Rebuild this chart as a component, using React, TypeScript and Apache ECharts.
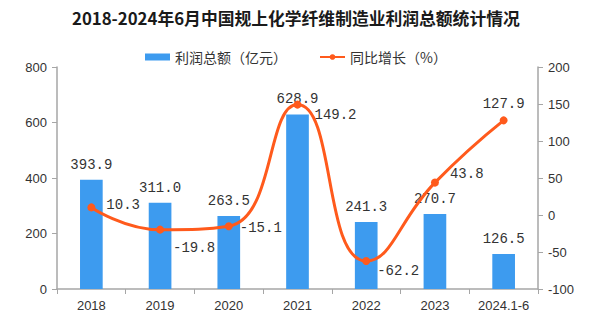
import React, { useEffect, useRef } from "react";
import * as echarts from "echarts";

const categories = ["2018", "2019", "2020", "2021", "2022", "2023", "2024.1-6"];
const profit = [393.9, 311.0, 263.5, 628.9, 241.3, 270.7, 126.5];
const growth = [10.3, -19.8, -15.1, 149.2, -62.2, 43.8, 127.9];
const leftTicks = { min: 0, max: 800, interval: 200 };
const rightTicks = { min: -100, max: 200, interval: 50 };

const labelPos: any[] = [
  { position: "right", offset: [6, -2] },
  { position: "right", offset: [4, 18] },
  { position: "right", offset: [2, 2] },
  { position: "right", offset: [8, 10] },
  { position: "right", offset: [2, 10] },
  { position: "right", offset: [6, -9] },
  { position: "top", offset: [0, 0] },
];

export default function App() {
  const ref = useRef<HTMLDivElement>(null);
  useEffect(() => {
    const chart = echarts.init(ref.current!, null, { renderer: "svg" });
    const axisLine = { show: true, lineStyle: { color: "#a6a6a6", width: 1.5 } };
    const monoLabel = {
      fontFamily: "Liberation Mono",
      fontSize: 14,
      color: "#333",
    };
    chart.setOption({
      animation: false,
      title: {
        text: "2018-2024年6月中国规上化学纤维制造业利润总额统计情况",
        left: 67,
        top: 5,
        textStyle: {
          fontFamily: "Noto Sans CJK SC",
          fontWeight: "bold",
          fontSize: 16.8,
          color: "#1a1a1a",
        },
      },
      legend: {
        top: 45,
        left: 140,
        itemGap: 32,
        textStyle: { fontFamily: "Noto Sans CJK SC", fontSize: 14, color: "#333" },
        data: [
          { name: "利润总额（亿元）", icon: "rect", itemStyle: { color: "#3d9bef" } },
          { name: "同比增长（%）" },
        ],
        itemWidth: 25,
        itemHeight: 7,
      },
      grid: { left: 57, right: 64, top: 67, bottom: 32 },
      xAxis: {
        type: "category",
        data: categories,
        axisLine,
        axisTick: { show: true, lineStyle: { color: "#a6a6a6" }, length: 5 },
        axisLabel: {
          fontFamily: "Liberation Sans",
          fontSize: 13,
          color: "#333",
          margin: 10,
          interval: 0,
        },
      },
      yAxis: [
        {
          type: "value",
          ...leftTicks,
          axisLine,
          axisTick: { show: true, lineStyle: { color: "#a6a6a6" }, length: 5 },
          splitLine: { show: false },
          axisLabel: { fontFamily: "Liberation Sans", fontSize: 13, color: "#333", margin: 10 },
        },
        {
          type: "value",
          ...rightTicks,
          axisLine,
          axisTick: { show: true, lineStyle: { color: "#a6a6a6" }, length: 5 },
          splitLine: { show: false },
          axisLabel: { fontFamily: "Liberation Sans", fontSize: 13, color: "#333", margin: 10 },
        },
      ],
      series: [
        {
          name: "利润总额（亿元）",
          type: "bar",
          data: profit,
          barWidth: "33%",
          itemStyle: { color: "#3d9bef" },
          label: { show: true, position: "top", distance: 8, ...monoLabel, formatter: (p: any) => p.value.toFixed(1) },
        },
        {
          name: "同比增长（%）",
          type: "line",
          yAxisIndex: 1,
          smooth: 0.5,
          symbol: "circle",
          symbolSize: 8,
          lineStyle: { color: "#ff5a1c", width: 3 },
          itemStyle: { color: "#ff5a1c" },
          data: growth.map((v, i) => ({
            value: v,
            label: { show: true, ...labelPos[i], ...monoLabel, distance: 5, formatter: (p: any) => p.value.toFixed(1) },
          })),
        },
      ],
    });
    return () => chart.dispose();
  }, []);
  return <div ref={ref} style={{ width: 602, height: 321, position: "absolute", left: 0, top: 0 }} />;
}
